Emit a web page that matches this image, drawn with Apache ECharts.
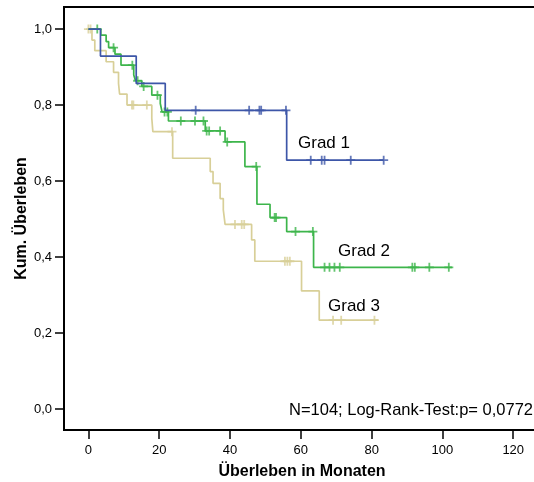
<!DOCTYPE html>
<html>
<head>
<meta charset="utf-8">
<script src="https://cdn.jsdelivr.net/npm/echarts@6/dist/echarts.min.js"></script>
<style>
  html, body { margin: 0; padding: 0; background: #fff; }
  #chart { width: 534px; height: 482px; }
</style>
</head>
<body>
<div id="chart"></div>
<script>
// Kaplan-Meier: event times (months) and survival after each event
const grad1Times = [3.4, 13.5, 21.7, 56.0];
const grad1Surv = [0.929, 0.857, 0.786, 0.655];
const grad1End = 83.4;
const grad1Censored = [30.3, 45.4, 48.3, 48.8, 55.8, 62.8, 65.9, 66.7, 74.1, 83.4];

const grad2Times = [3.5, 5.0, 5.7, 7.5, 9.2, 12.8, 13.3, 15.1, 17.9, 20.3, 20.8, 22.6, 33.0, 38.6, 44.2, 47.6, 51.3, 56.0, 63.6];
const grad2Surv = [0.984, 0.967, 0.951, 0.934, 0.905, 0.879, 0.864, 0.849, 0.826, 0.804, 0.782, 0.758, 0.732, 0.703, 0.638, 0.539, 0.504, 0.467, 0.373];
const grad2End = 102.7;
const grad2Censored = [2.5, 7.1, 12.4, 13.9, 15.6, 19.5, 21.5, 22.3, 26.1, 30.1, 32.5, 33.4, 34.1, 37.2, 39.2, 47.4, 52.6, 53.0, 58.5, 63.4, 66.7, 68.1, 69.5, 71.0, 91.5, 92.2, 96.3, 101.8];

const grad3Times = [1.0, 1.8, 5.0, 7.1, 8.5, 8.8, 10.9, 17.9, 18.2, 23.8, 34.4, 35.2, 37.2, 38.1, 38.6, 46.1, 47.0, 60.2, 65.2];
const grad3Surv = [0.971, 0.943, 0.914, 0.886, 0.857, 0.829, 0.800, 0.765, 0.730, 0.660, 0.625, 0.594, 0.554, 0.524, 0.486, 0.445, 0.389, 0.311, 0.234];
const grad3End = 81.8;
const grad3Censored = [0.0, 0.6, 12.3, 12.7, 16.5, 23.6, 41.4, 43.3, 44.0, 55.5, 56.2, 56.9, 69.1, 71.4, 80.8];

const xTicks = [0, 20, 40, 60, 80, 100, 120];
const yTicks = [0, 0.2, 0.4, 0.6, 0.8, 1.0];

const FONT = '"Liberation Sans", Arial, sans-serif';
const colors = ['#3d56a8', '#3db54b', '#d8cf98'];

function curve(times, surv, end) {
    let pts = [[0, 1]];
    times.forEach((t, i) => pts.push([t, surv[i]]));
    pts.push([end, surv[surv.length - 1]]);
    return pts;
}

function levelAt(times, surv, t) {
    let s = 1;
    for (let i = 0; i < times.length; i++) {
        if (times[i] <= t) s = surv[i];
    }
    return s;
}

function censorMarks(times, surv, cens) {
    return cens.map(t => [t, levelAt(times, surv, t)]);
}

const groups = [
    [grad1Times, grad1Surv, grad1End, grad1Censored],
    [grad2Times, grad2Surv, grad2End, grad2Censored],
    [grad3Times, grad3Surv, grad3End, grad3Censored]
];

let series = [];
// draw grade 3 first so grade 1 sits on top
[2, 1, 0].forEach(g => {
    let [times, surv, end, cens] = groups[g];
    series.push({
        type: 'line',
        step: 'end',
        data: curve(times, surv, end),
        showSymbol: false,
        lineStyle: { color: colors[g], width: 1.7 },
        animation: false
    });
    series.push({
        type: 'scatter',
        data: censorMarks(times, surv, cens),
        symbol: 'path://M4,0H6V10H4ZM0,4H10V6H0Z',
        symbolSize: [9, 9],
        itemStyle: { color: colors[g] },
        animation: false
    });
});

const option = {
    animation: false,
    grid: {
        left: 64, top: 7, width: 476, height: 423,
        containLabel: false,
        outerBoundsMode: 'none',
        show: true, borderColor: '#000', borderWidth: 2
    },
    xAxis: {
        type: 'value',
        min: -6.9, max: 127.56,
        name: 'Überleben in Monaten',
        nameLocation: 'middle',
        nameGap: 34,
        nameMoveOverlap: false,
        nameTextStyle: { fontFamily: FONT, fontSize: 16, fontWeight: 'bold', color: '#000' },
        axisLine: { show: true, onZero: false, lineStyle: { color: '#000', width: 2 } },
        axisTick: { show: true, length: 9, customValues: xTicks, lineStyle: { color: '#000', width: 1.5 } },
        axisLabel: { customValues: xTicks, margin: 14, fontFamily: FONT, fontSize: 13, color: '#000' },
        splitLine: { show: false }
    },
    yAxis: {
        type: 'value',
        min: -0.055, max: 1.058,
        name: 'Kum. Überleben',
        nameLocation: 'middle',
        nameGap: 34,
        nameMoveOverlap: false,
        nameTextStyle: { fontFamily: FONT, fontSize: 16, fontWeight: 'bold', color: '#000' },
        axisLine: { show: true, onZero: false, lineStyle: { color: '#000', width: 2 } },
        axisTick: { show: true, length: 9, customValues: yTicks, lineStyle: { color: '#000', width: 1.5 } },
        axisLabel: {
            customValues: yTicks, margin: 12, fontFamily: FONT, fontSize: 13, color: '#000',
            formatter: v => v.toFixed(1).replace('.', ',')
        },
        splitLine: { show: false }
    },
    graphic: [
        { type: 'text', x: 298, y: 143, style: { text: 'Grad 1', font: '17px ' + FONT, fill: '#000', verticalAlign: 'middle' } },
        { type: 'text', x: 338, y: 251, style: { text: 'Grad 2', font: '17px ' + FONT, fill: '#000', verticalAlign: 'middle' } },
        { type: 'text', x: 328, y: 306, style: { text: 'Grad 3', font: '17px ' + FONT, fill: '#000', verticalAlign: 'middle' } },
        { type: 'text', x: 533, y: 410, style: { text: 'N=104; Log-Rank-Test:p= 0,0772', font: '16.5px ' + FONT, fill: '#000', align: 'right', verticalAlign: 'middle' } }
    ],
    series: series
};

let myChart = echarts.init(document.getElementById('chart'));
myChart.setOption(option);
</script>
</body>
</html>
